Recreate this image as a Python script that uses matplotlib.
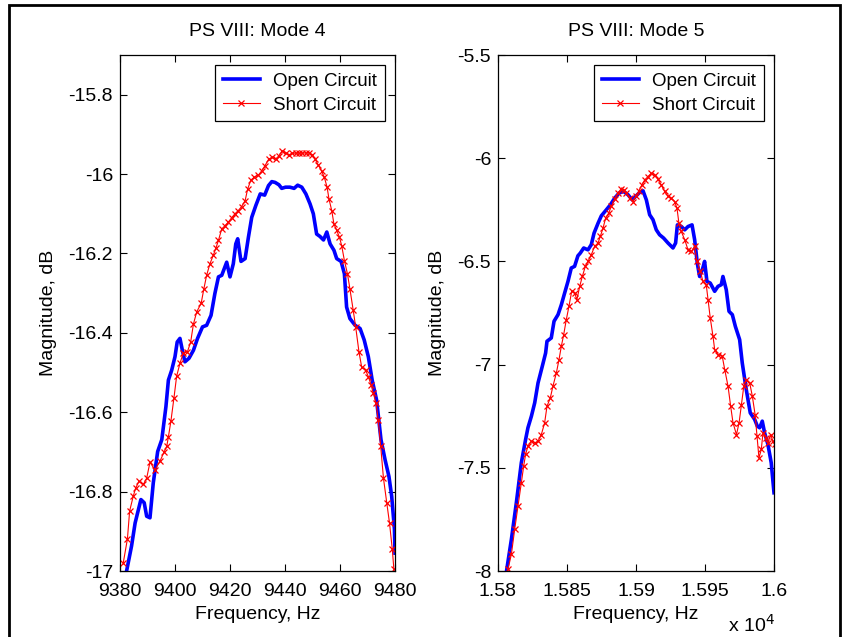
import matplotlib
matplotlib.use("Agg")
import matplotlib.pyplot as plt
from matplotlib.patches import Rectangle

plt.rcParams['font.family'] = ['Liberation Sans', 'DejaVu Sans']

# ---------------- Mode 4 data ----------------
m4_open_f = [9382.4, 9384.2, 9385.5, 9387.6, 9388.8, 9389.7, 9390.9, 9392.1, 9393.7, 9395.2,
             9396.7, 9397.6, 9398.8, 9400.0, 9400.8, 9401.8, 9402.8, 9403.6, 9405.1, 9406.7,
             9408.2, 9410.0, 9411.5, 9413.1, 9414.5, 9415.8, 9417.0, 9418.8, 9420.0, 9421.2,
             9422.1, 9422.8, 9424.0, 9425.5, 9426.7, 9427.9, 9429.4, 9431.0, 9432.6, 9434.0,
             9435.2, 9436.4, 9437.8, 9438.8, 9440.2, 9441.8, 9443.3, 9444.6, 9446.1, 9447.6,
             9449.1, 9450.3, 9451.5, 9452.7, 9454.0, 9455.2, 9456.4, 9457.8, 9458.8, 9460.4,
             9461.6, 9462.4, 9463.6, 9465.5, 9467.3, 9468.8, 9470.3, 9471.7, 9473.3, 9474.9,
             9476.4, 9477.8, 9478.8, 9479.8, 9480.0]
m4_open_db = [-17.0, -16.937, -16.879, -16.82, -16.828, -16.862, -16.866, -16.778, -16.699, -16.669,
              -16.586, -16.519, -16.494, -16.46, -16.423, -16.414, -16.448, -16.473, -16.464, -16.444,
              -16.414, -16.385, -16.381, -16.356, -16.301, -16.259, -16.255, -16.222, -16.259, -16.226,
              -16.176, -16.163, -16.22, -16.213, -16.159, -16.109, -16.079, -16.05, -16.053, -16.029,
              -16.019, -16.021, -16.027, -16.036, -16.033, -16.033, -16.036, -16.028, -16.033, -16.05,
              -16.075, -16.1, -16.151, -16.157, -16.166, -16.146, -16.176, -16.192, -16.213, -16.22,
              -16.251, -16.335, -16.364, -16.381, -16.389, -16.418, -16.46, -16.519, -16.569, -16.669,
              -16.72, -16.762, -16.812, -16.895, -16.955]

m4_short_f = [9381.2, 9382.7, 9383.5, 9384.8, 9385.7, 9386.9, 9388.5, 9389.7, 9390.9, 9392.7,
              9394.5, 9396.1, 9397.0, 9397.6, 9398.5, 9399.6, 9400.6, 9401.8, 9403.0, 9404.5,
              9405.7, 9406.7, 9407.9, 9409.5, 9410.5, 9411.5, 9412.7, 9413.9, 9414.9, 9415.8,
              9417.0, 9418.2, 9419.4, 9420.6, 9421.8, 9423.0, 9424.2, 9425.5, 9426.4, 9427.6,
              9428.8, 9430.3, 9431.5, 9432.7, 9434.1, 9435.4, 9436.6, 9437.8, 9439.0, 9440.2,
              9441.5, 9442.7, 9443.9, 9445.1, 9446.3, 9447.5, 9448.7, 9449.9, 9450.9, 9452.1,
              9453.3, 9454.3, 9455.3, 9456.0, 9457.0, 9457.8, 9458.8, 9459.8, 9460.6, 9461.6,
              9462.7, 9463.6, 9464.8, 9465.7, 9466.9, 9467.9, 9469.3, 9470.3, 9471.3, 9472.1,
              9473.1, 9473.9, 9474.8, 9475.8, 9477.0, 9478.0, 9479.0, 9479.6]
m4_short_db = [-16.979, -16.919, -16.849, -16.812, -16.791, -16.774, -16.782, -16.766, -16.726, -16.745,
               -16.724, -16.699, -16.686, -16.662, -16.623, -16.565, -16.509, -16.477, -16.451, -16.448,
               -16.423, -16.378, -16.347, -16.326, -16.289, -16.255, -16.226, -16.205, -16.186, -16.167,
               -16.138, -16.13, -16.121, -16.11, -16.1, -16.092, -16.082, -16.067, -16.038, -16.015,
               -16.008, -16.003, -15.992, -15.979, -15.962, -15.958, -15.962, -15.954, -15.941, -15.948,
               -15.951, -15.948, -15.947, -15.947, -15.947, -15.947, -15.946, -15.951, -15.962, -15.977,
               -15.992, -16.008, -16.033, -16.063, -16.092, -16.126, -16.142, -16.159, -16.18, -16.218,
               -16.251, -16.289, -16.343, -16.385, -16.448, -16.487, -16.494, -16.51, -16.531, -16.552,
               -16.577, -16.619, -16.686, -16.766, -16.828, -16.879, -16.944, -16.996]

# ---------------- Mode 5 data ----------------
m5_open_f = [15806.0, 15809.7, 15813.3, 15816.9, 15820.0, 15821.7, 15824.2, 15826.6, 15829.0, 15832.1,
             15834.5, 15835.5, 15838.6, 15840.6, 15843.5, 15845.9, 15848.3, 15850.7, 15853.1, 15855.5,
             15857.9, 15859.6, 15862.1, 15865.2, 15867.6, 15869.6, 15872.5, 15874.9, 15878.5, 15881.4,
             15884.5, 15887.7, 15891.0, 15894.2, 15897.3, 15900.2, 15902.6, 15905.1, 15907.5, 15909.9,
             15912.3, 15914.7, 15917.1, 15920.0, 15923.2, 15926.8, 15928.7, 15930.0, 15932.9, 15935.3,
             15937.7, 15940.6, 15942.5, 15944.4, 15946.1, 15948.1, 15949.7, 15951.4, 15953.8, 15957.0,
             15959.4, 15961.8, 15963.0, 15965.4, 15967.4, 15969.8, 15972.0, 15975.1, 15977.0, 15979.9,
             15982.8, 15986.0, 15987.9, 15989.6, 15991.5, 15993.2, 15995.6, 15998.0, 16000.0]
m5_open_db = [-8.008, -7.847, -7.669, -7.476, -7.363, -7.306, -7.25, -7.185, -7.089, -7.008,
              -6.944, -6.887, -6.871, -6.79, -6.758, -6.71, -6.653, -6.597, -6.532, -6.524,
              -6.473, -6.46, -6.435, -6.444, -6.419, -6.363, -6.315, -6.279, -6.25, -6.226,
              -6.194, -6.169, -6.161, -6.177, -6.202, -6.182, -6.166, -6.158, -6.202, -6.274,
              -6.298, -6.347, -6.371, -6.387, -6.411, -6.435, -6.411, -6.323, -6.331, -6.347,
              -6.331, -6.323, -6.395, -6.508, -6.573, -6.54, -6.5, -6.597, -6.605, -6.645,
              -6.621, -6.613, -6.573, -6.637, -6.742, -6.758, -6.815, -6.879, -6.992, -7.121,
              -7.234, -7.266, -7.298, -7.306, -7.274, -7.331, -7.387, -7.476, -7.621]

m5_short_f = [15807.2, 15809.7, 15812.1, 15814.5, 15816.9, 15818.6, 15820.0, 15821.7, 15824.2, 15826.6,
              15829.0, 15831.4, 15833.8, 15835.5, 15837.9, 15839.8, 15842.3, 15844.2, 15845.9, 15847.6,
              15849.5, 15851.4, 15853.4, 15855.5, 15857.2, 15859.2, 15861.1, 15863.3, 15865.2, 15867.6,
              15870.0, 15872.5, 15874.1, 15876.1, 15878.0, 15880.2, 15882.1, 15884.5, 15886.9, 15889.3,
              15891.3, 15893.0, 15895.4, 15897.8, 15899.7, 15901.9, 15904.3, 15906.3, 15908.7, 15911.1,
              15913.5, 15915.9, 15918.3, 15920.7, 15923.2, 15925.6, 15928.0, 15929.7, 15931.1, 15932.8,
              15935.3, 15937.7, 15940.1, 15942.5, 15944.2, 15946.6, 15948.5, 15950.9, 15952.2, 15953.8,
              15955.8, 15957.0, 15959.4, 15962.5, 15964.3, 15966.7, 15968.6, 15970.3, 15972.8, 15974.7,
              15976.4, 15978.1, 15980.0, 15982.4, 15984.3, 15986.3, 15987.7, 15989.1, 15990.8, 15992.0,
              15994.0, 15995.6, 15997.6, 15999.2, 16000.4]
m5_short_db = [-7.992, -7.919, -7.798, -7.685, -7.573, -7.492, -7.435, -7.395, -7.371, -7.379,
               -7.371, -7.339, -7.282, -7.202, -7.161, -7.105, -7.04, -6.976, -6.911, -6.855,
               -6.782, -6.718, -6.645, -6.653, -6.685, -6.621, -6.573, -6.524, -6.5, -6.468,
               -6.427, -6.411, -6.379, -6.339, -6.29, -6.266, -6.234, -6.198, -6.169, -6.148,
               -6.153, -6.169, -6.194, -6.21, -6.185, -6.161, -6.129, -6.105, -6.089, -6.073,
               -6.081, -6.102, -6.129, -6.161, -6.185, -6.194, -6.21, -6.242, -6.315, -6.355,
               -6.395, -6.444, -6.452, -6.427, -6.5, -6.548, -6.597, -6.613, -6.685, -6.774,
               -6.863, -6.927, -6.952, -6.96, -7.024, -7.105, -7.202, -7.282, -7.339, -7.282,
               -7.194, -7.105, -7.073, -7.089, -7.153, -7.242, -7.347, -7.452, -7.411, -7.331,
               -7.355, -7.379, -7.339, -7.371, -7.387]

titles = ["PS VIII: Mode 4", "PS VIII: Mode 5"]
legend_labels = ["Open Circuit", "Short Circuit"]
m4_xticks = [9380, 9400, 9420, 9440, 9460, 9480]
m4_xticklabels = ["9380", "9400", "9420", "9440", "9460", "9480"]
m4_yticks = [-17.0, -16.8, -16.6, -16.4, -16.2, -16.0, -15.8]
m4_yticklabels = ["-17", "-16.8", "-16.6", "-16.4", "-16.2", "-16", "-15.8"]
m5_xticks = [15800, 15850, 15900, 15950, 16000]
m5_xticklabels = ["1.58", "1.585", "1.59", "1.595", "1.6"]
m5_yticks = [-8.0, -7.5, -7.0, -6.5, -6.0, -5.5]
m5_yticklabels = ["-8", "-7.5", "-7", "-6.5", "-6", "-5.5"]

FS = 14
W, H = 845, 637
fig = plt.figure(figsize=(W / 100, H / 100), dpi=100)
fig.patch.set_facecolor("white")

# outer frame
fig.add_artist(Rectangle((9 / W, -0.05), (840 - 9) / W, 1.05 - 5 / H,
                         transform=fig.transFigure, fill=False, edgecolor="black", linewidth=2))

ax1 = fig.add_axes([120 / W, 1 - 571 / H, (395 - 120) / W, (571 - 55) / H])
ax2 = fig.add_axes([498 / W, 1 - 571 / H, (774 - 498) / W, (571 - 55) / H])

for ax, of, od, sf, sd in [(ax1, m4_open_f, m4_open_db, m4_short_f, m4_short_db),
                           (ax2, m5_open_f, m5_open_db, m5_short_f, m5_short_db)]:
    ax.plot(of, od, color="#0000ff", linewidth=2.6, label=legend_labels[0])
    ax.plot(sf, sd, color="#ff0000", linewidth=0.8, marker="x", markersize=5,
            markeredgewidth=0.9, label=legend_labels[1])

ax1.set_xlim(9380, 9480)
ax1.set_ylim(-17, -15.7)
ax1.set_xticks(m4_xticks)
ax1.set_xticklabels(m4_xticklabels)
ax1.set_yticks(m4_yticks)
ax1.set_yticklabels(m4_yticklabels)

ax2.set_xlim(15800, 16000)
ax2.set_ylim(-8, -5.5)
ax2.set_xticks(m5_xticks)
ax2.set_xticklabels(m5_xticklabels)
ax2.set_yticks(m5_yticks)
ax2.set_yticklabels(m5_yticklabels)

for ax, t in [(ax1, titles[0]), (ax2, titles[1])]:
    ax.set_title(t, fontsize=FS, pad=14)
    ax.set_xlabel("Frequency, Hz", fontsize=FS, labelpad=4)
    ax.set_ylabel("Magnitude, dB", fontsize=FS, labelpad=8)
    ax.tick_params(direction="in", top=True, right=True, length=5, width=0.8,
                   labelsize=FS, colors="black")
    ax.tick_params(axis="x", pad=9)
    ax.tick_params(axis="y", pad=5)
    for s in ax.spines.values():
        s.set_linewidth(0.9)
    leg = ax.legend(loc="upper right", fontsize=13.5, frameon=True, fancybox=False,
                    edgecolor="black", framealpha=1, handlelength=2.0,
                    borderaxespad=0.55, borderpad=0.4, labelspacing=0.35, handletextpad=0.7)
    leg.get_frame().set_linewidth(0.9)

fig.text(728 / W, 1 - 625 / H, r"x 10$^{4}$", fontsize=FS, ha="left", va="center")

fig.savefig("out.png", dpi=100)
